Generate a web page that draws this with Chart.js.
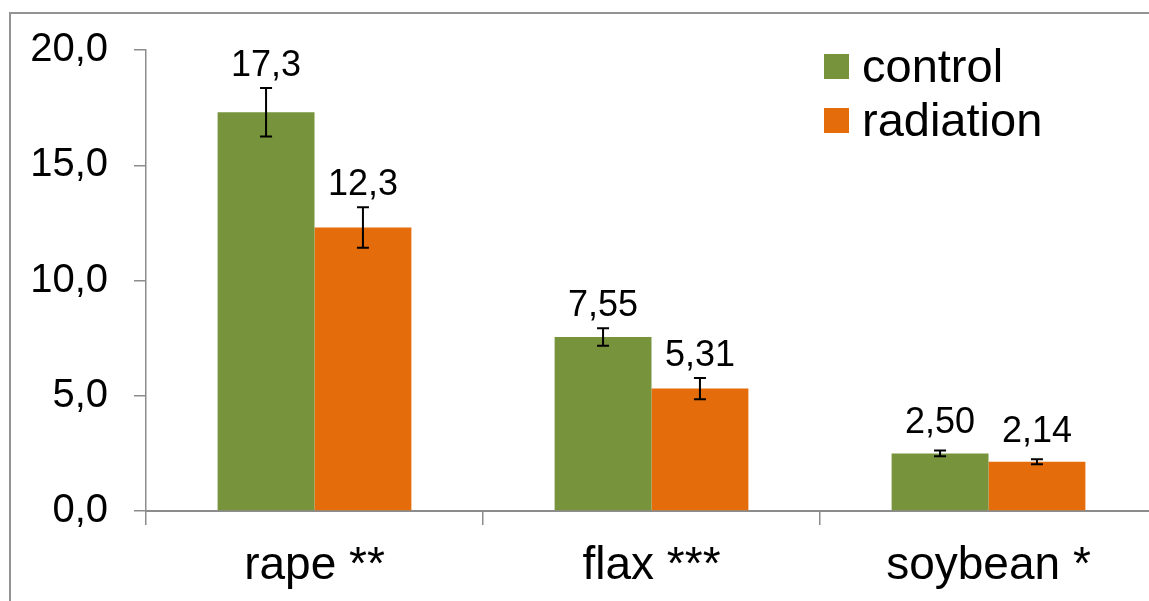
<!DOCTYPE html>
<html>
<head>
<meta charset="utf-8">
<script src="https://cdn.jsdelivr.net/npm/chart.js@4.4.1/dist/chart.umd.min.js"></script>
<style>
  html, body { margin: 0; padding: 0; background: #fff; overflow: hidden; width: 1149px; height: 601px; }
  #frame { position: absolute; left: 9px; top: 12px; width: 1140px; height: 589px; border-left: 2px solid #939393; border-top: 2px solid #939393; box-sizing: border-box; }
  #wrap { position: absolute; left: 0; top: 0; width: 1180px; height: 601px; }
</style>
</head>
<body>
<div id="frame"></div>
<div id="wrap"><canvas id="chart" width="1180" height="601"></canvas></div>
<script>
const categories = ['rape **', 'flax ***', 'soybean *'];
const seriesNames = ['control', 'radiation'];
const controlValues = [17.3, 7.55, 2.50];
const radiationValues = [12.3, 5.31, 2.14];
const controlErrors = [1.05, 0.38, 0.13];
const radiationErrors = [0.88, 0.46, 0.11];
const controlLabels = ['17,3', '7,55', '2,50'];
const radiationLabels = ['12,3', '5,31', '2,14'];
const yTickValues = [0, 5, 10, 15, 20];
const yTickLabels = ['0,0', '5,0', '10,0', '15,0', '20,0'];

const FONT = '"Liberation Sans", Arial, sans-serif';
const AXIS_GRAY = '#8c8c8c';

const errors = [controlErrors, radiationErrors];
const valueLabels = [controlLabels, radiationLabels];

// error bars plus the value printed above each bar
const errorBarsAndLabels = {
  id: 'errorBarsAndLabels',
  afterDatasetsDraw(chart) {
    const { ctx } = chart;
    const yScale = chart.scales.y;
    ctx.save();
    chart.data.datasets.forEach((dataset, i) => {
      const meta = chart.getDatasetMeta(i);
      meta.data.forEach((bar, j) => {
        const value = dataset.data[j];
        const err = errors[i][j];
        const top = yScale.getPixelForValue(value + err);
        const bottom = yScale.getPixelForValue(value - err);

        ctx.strokeStyle = '#000';
        ctx.lineWidth = 2;
        ctx.beginPath();
        ctx.moveTo(bar.x, top);
        ctx.lineTo(bar.x, bottom);
        ctx.moveTo(bar.x - 6, top);
        ctx.lineTo(bar.x + 6, top);
        ctx.moveTo(bar.x - 6, bottom);
        ctx.lineTo(bar.x + 6, bottom);
        ctx.stroke();

        ctx.fillStyle = '#000';
        ctx.font = `36px ${FONT}`;
        ctx.textAlign = 'center';
        ctx.textBaseline = 'alphabetic';
        const baseline = Math.min(top - 12, bar.y - 20);
        ctx.fillText(valueLabels[i][j], bar.x, baseline);
      });
    });
    ctx.restore();
  },
};

// legend sits inside the plot, top right
const cornerLegend = {
  id: 'cornerLegend',
  afterDraw(chart) {
    const { ctx } = chart;
    ctx.save();
    ctx.font = `47px ${FONT}`;
    ctx.textAlign = 'left';
    ctx.textBaseline = 'alphabetic';
    chart.data.datasets.forEach((dataset, i) => {
      const y = 54 + i * 54;
      ctx.fillStyle = dataset.backgroundColor;
      ctx.fillRect(824, y, 25, 25);
      ctx.fillStyle = '#000';
      ctx.fillText(dataset.label, 862, y + 28);
    });
    ctx.restore();
  },
};

new Chart(document.getElementById('chart'), {
  type: 'bar',
  data: {
    labels: categories,
    datasets: [
      {
        label: seriesNames[0],
        data: controlValues,
        backgroundColor: '#77933c',
        barPercentage: 1,
        categoryPercentage: 0.575,
      },
      {
        label: seriesNames[1],
        data: radiationValues,
        backgroundColor: '#e46c0a',
        barPercentage: 1,
        categoryPercentage: 0.575,
      },
    ],
  },
  options: {
    responsive: false,
    animation: false,
    devicePixelRatio: 1,
    layout: {
      padding: { top: 49, right: 23, bottom: 0, left: 0 },
    },
    plugins: {
      legend: { display: false },
      tooltip: { enabled: false },
    },
    scales: {
      x: {
        grid: {
          drawOnChartArea: false,
          drawTicks: true,
          tickLength: 14,
          color: AXIS_GRAY,
          lineWidth: 1.5,
        },
        border: { color: AXIS_GRAY, width: 2 },
        ticks: {
          color: '#000',
          font: { family: FONT, size: 46 },
          padding: 14,
          maxRotation: 0,
        },
        afterFit(scale) {
          scale.height = 90;
        },
      },
      y: {
        min: 0,
        max: 20,
        grid: {
          drawOnChartArea: false,
          drawTicks: true,
          tickLength: 12,
          color: AXIS_GRAY,
          lineWidth: 1.5,
        },
        border: { color: AXIS_GRAY, width: 1.5 },
        ticks: {
          stepSize: 5,
          color: '#000',
          font: { family: FONT, size: 40 },
          padding: 26,
          callback: (value) => yTickLabels[yTickValues.indexOf(value)],
        },
        afterFit(scale) {
          scale.width = 146;
        },
      },
    },
  },
  plugins: [errorBarsAndLabels, cornerLegend],
});
</script>
</body>
</html>
